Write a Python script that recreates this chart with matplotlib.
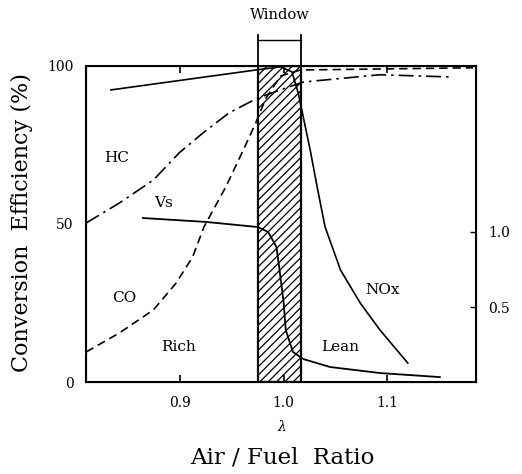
import matplotlib
matplotlib.use("Agg")
import matplotlib.pyplot as plt

plt.rcParams['font.family'] = ['DejaVu Serif']
plt.rcParams['hatch.linewidth'] = 0.9

# lambda values and conversion efficiency (%)
hc_x = [0.809, 0.841, 0.874, 0.899, 0.922, 0.947, 0.971, 0.983, 1.002, 1.019, 1.093, 1.161]
hc_y = [50.3, 56.6, 63.9, 72.5, 78.8, 85.1, 89.2, 90.8, 93.0, 94.9, 97.2, 96.5]

co_x = [0.809, 0.841, 0.874, 0.896, 0.912, 0.923, 0.944, 0.961, 0.973, 0.983, 0.997, 1.016, 1.183]
co_y = [9.5, 15.5, 22.8, 31.3, 39.6, 49.1, 61.7, 73.4, 82.0, 89.9, 96.8, 98.7, 99.4]

nox_x = [0.833, 0.973, 0.997, 1.008, 1.014, 1.026, 1.032, 1.040, 1.055, 1.074, 1.093, 1.120]
nox_y = [92.4, 98.7, 99.7, 98.1, 91.5, 72.8, 62.3, 49.1, 35.4, 25.0, 16.5, 6.0]

# sensor voltage Vs (right axis)
vs_x = [0.864, 0.925, 0.975, 0.985, 0.993, 0.996, 1.000, 1.002, 1.009, 1.019, 1.045, 1.093, 1.151]
vs_y = [1.093, 1.067, 1.033, 1.0, 0.9, 0.747, 0.527, 0.347, 0.2, 0.153, 0.1, 0.06, 0.033]

window = (0.975, 1.017)

fig = plt.figure(figsize=(5.22, 4.74), dpi=100)
ax = fig.add_axes([0.165, 0.194, 0.747, 0.667])
ax.set_xlim(0.809, 1.186)
ax.set_ylim(0, 100)

ax.axvspan(window[0], window[1], facecolor='white', edgecolor='black',
           hatch='////', lw=1.6, zorder=1)

ax.plot(hc_x, hc_y, color='black', lw=1.2, linestyle=(0, (9, 3, 1.5, 3)), zorder=3)
ax.plot(co_x, co_y, color='black', lw=1.2, linestyle=(0, (5, 3)), zorder=3)
ax.plot(nox_x, nox_y, color='black', lw=1.2, zorder=3)

ax2 = ax.twinx()
ax2.set_ylim(0, 2.107)
ax2.plot(vs_x, vs_y, color='black', lw=1.3, zorder=3)

# window bracket above the plot
ax.plot([window[0], window[0]], [100, 109.8], color='black', lw=1.3, clip_on=False)
ax.plot([window[1], window[1]], [100, 109.8], color='black', lw=1.3, clip_on=False)
ax.plot([window[0], window[1]], [108.2, 108.2], color='black', lw=1.0, clip_on=False)
ax.text(0.996, 116, 'Window', ha='center', va='center', fontsize=10.5, clip_on=False)

for s in ax.spines.values():
    s.set_linewidth(1.5)

ax.set_xticks([0.9, 1.0, 1.1])
ax.set_xticklabels(['0.9', '1.0', '1.1'])
ax.set_yticks([0, 50, 100])
ax.set_yticklabels(['0', '50', '100'])
ax.tick_params(axis='x', direction='in', length=5, width=1.2, pad=10, labelsize=10, top=True)
ax.tick_params(axis='y', length=0, pad=9, labelsize=10)
ax2.set_yticks([0.5, 1.0])
ax2.set_yticklabels(['0.5', '1.0'])
ax2.tick_params(axis='y', direction='in', length=4, width=1.0, pad=9, labelsize=10)

ax.text(0.838, 70.9, 'HC', ha='center', va='center', fontsize=11)
ax.text(0.884, 56.6, 'Vs', ha='center', va='center', fontsize=11)
ax.text(0.846, 26.6, 'CO', ha='center', va='center', fontsize=11)
ax.text(0.898, 11, 'Rich', ha='center', va='center', fontsize=11)
ax.text(1.055, 11, 'Lean', ha='center', va='center', fontsize=11)
ax.text(1.096, 29, 'NOx', ha='center', va='center', fontsize=11)

fig.text(0.540, 0.099, 'λ', ha='center', va='center', fontsize=10, style='italic')
fig.text(0.540, 0.034, 'Air / Fuel  Ratio', ha='center', va='center', fontsize=16.5)
fig.text(0.042, 0.530, 'Conversion  Efficiency (%)', ha='center', va='center',
         rotation=90, fontsize=16)

fig.savefig('out.png', dpi=100)
